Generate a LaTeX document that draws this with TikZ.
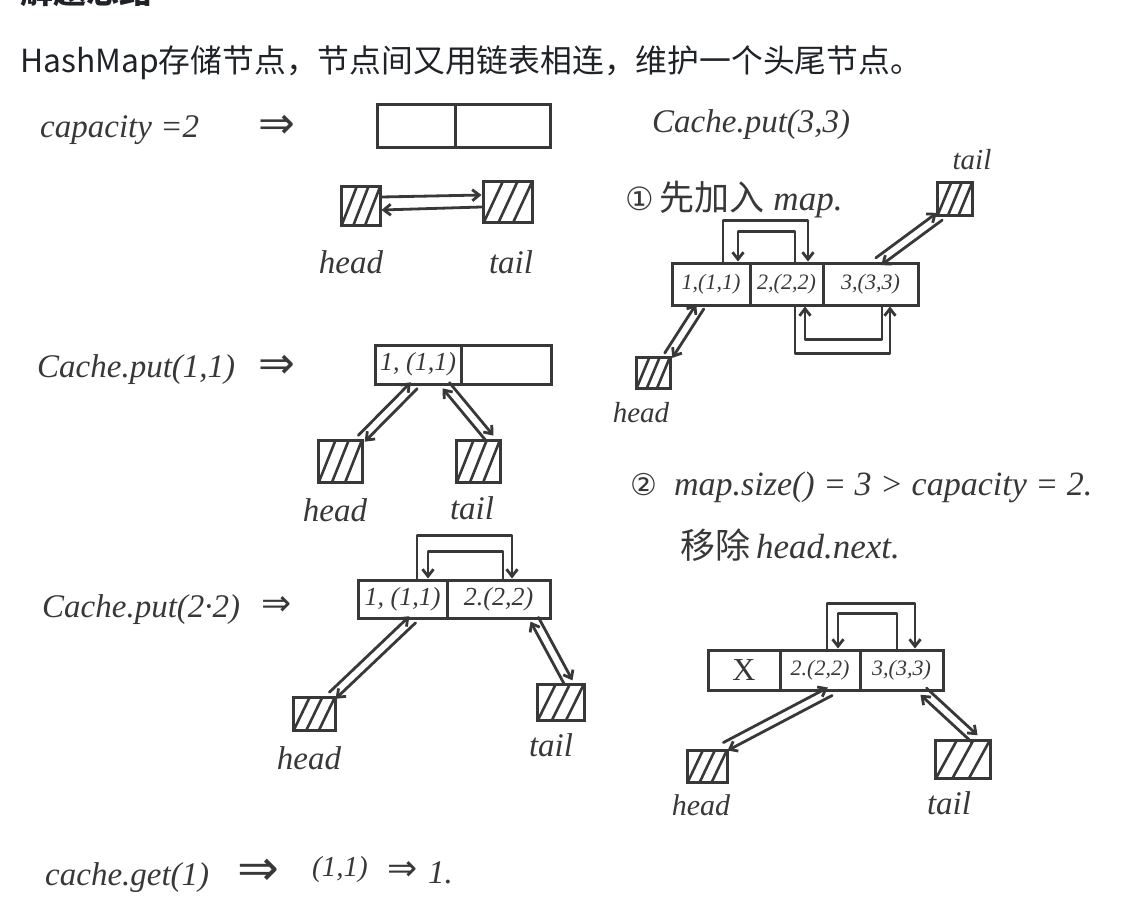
\documentclass[tikz,border=0pt]{standalone}
\usepackage{fontspec}
\setmainfont{Liberation Serif}
\newfontfamily\cjk{Noto Sans CJK SC}
\newfontfamily\dejavu{DejaVu Sans}
\usetikzlibrary{arrows.meta,calc}
\definecolor{ink}{HTML}{383838}
\definecolor{txt}{HTML}{1F2328}
\newcommand\myhatch{%
  \path (path picture bounding box.south west) coordinate (hsw)
        (path picture bounding box.north east) coordinate (hne);
  \foreach \f/\g in {0.02/0.40,0.32/0.70,0.62/1.0}{%
    \draw[ink,line width=2.6pt] ($(hsw)!\f!(hsw -| hne)$) -- ($(hsw |- hne)!\g!(hne)$);}%
}
\newcommand\dbl[2]{%
  \draw[arr] ($(#1)!4.5pt!90:(#2)$) -- ($(#2)!4.5pt!-90:(#1)$);
  \draw[arr] ($(#2)!4.5pt!90:(#1)$) -- ($(#1)!4.5pt!-90:(#2)$);}
\newcommand\imp[1]{{\dejavu\upshape\fontsize{#1}{#1}\selectfont ⇒}}
\tikzset{
  hw/.style={font=\itshape\fontsize{33}{33}\selectfont, text=ink, inner sep=0},
  cellb/.style={draw=ink, line width=3pt, inner sep=0, text=ink},
  hatchbox/.style={draw=ink, line width=3pt, inner sep=0, path picture={\myhatch}},
  arr/.style={draw=ink, line width=2.8pt, -{Straight Barb[length=7pt,width=11pt]}, line cap=round, line join=round},
}
\begin{document}
\begin{tikzpicture}[x=1pt,y=-1pt]
\useasboundingbox[fill=white] (0,0) rectangle (1126,912);
% headings
\node[anchor=base west, font=\cjk\bfseries\fontsize{33}{33}\selectfont, text=txt, inner sep=0] (hd) at (20,4) {解题思路};
\node[anchor=west, font=\cjk\fontsize{31.8}{31.8}\selectfont, text=txt, inner sep=0] (sub) at (20,63) {HashMap存储节点，节点间又用链表相连，维护一个头尾节点。};

% ---------- capacity = 2
\node[hw, anchor=west] (l0) at (40,130) {capacity =2};
\node[hw] (r0) at (277,127) {\imp{44}};
\node[cellb, minimum width=78pt, minimum height=43pt] (a1) at (416,126.5) {};
\node[cellb, minimum width=95pt, minimum height=43pt] (a2) at (502.5,126.5) {};
\node[hatchbox, minimum width=39pt, minimum height=38pt] (h0) at (360.5,206) {};
\node[hatchbox, minimum width=49pt, minimum height=40pt] (t0) at (507.5,202) {};
\node[hw] (hl0) at (351,262) {head};
\node[hw] (tl0) at (511,262) {tail};
\draw[arr] ([yshift=9pt]h0.east) -- ([yshift=7pt]t0.west);
\draw[arr] ([yshift=-5pt]t0.west) -- ([yshift=-4pt]h0.east);

% ---------- put(1,1)
\node[hw, anchor=west] (l1) at (37,370) {Cache.put(1,1)};
\node[hw] (r1) at (277,367) {\imp{44}};
\node[cellb, minimum width=86pt, minimum height=39pt, font=\itshape\fontsize{26}{26}\selectfont] (b1) at (418,364.5) {1, (1,1)};
\node[cellb, minimum width=90pt, minimum height=39pt] (b2) at (506,364.5) {};
\node[hatchbox, minimum width=44pt, minimum height=42pt] (h1) at (340,461) {};
\node[hatchbox, minimum width=44pt, minimum height=42pt] (t1) at (478,461) {};
\node[hw] (hl1) at (335,510) {head};
\node[hw] (tl1) at (472,508) {tail};
\coordinate (p1a) at ([xshift=-4pt]b1.south);
\coordinate (p1b) at ([xshift=-2pt]h1.north east);
\coordinate (p1c) at ([xshift=28pt]b1.south);
\coordinate (p1d) at ([xshift=12pt]t1.north);
\dbl{p1a}{p1b}
\dbl{p1c}{p1d}

% ---------- put(2,2)
\node[hw, anchor=west] (l2) at (42,610) {Cache.put(2·2)};
\node[hw] (r2) at (277,606) {\imp{36}};
\node[cellb, minimum width=89pt, minimum height=38pt, font=\itshape\fontsize{26}{26}\selectfont] (c1) at (402.5,599) {1, (1,1)};
\node[cellb, minimum width=103pt, minimum height=38pt, font=\itshape\fontsize{26}{26}\selectfont] (c2) at (498.5,599) {2.(2,2)};
\draw[arr] ([xshift=14.5pt]c1.north) -- ++(0,-43) -| ([xshift=13.5pt]c2.north);
\draw[arr] ([xshift=4.5pt]c2.north) -- ++(0,-27) -| ([xshift=25.5pt]c1.north);
\node[hatchbox, minimum width=42pt, minimum height=33pt] (h2) at (314,713.5) {};
\node[hatchbox, minimum width=47pt, minimum height=36pt] (t2) at (560.5,702) {};
\node[hw] (hl2) at (309,758) {head};
\node[hw] (tl2) at (551,745) {tail};
\coordinate (p2a) at ([xshift=10pt]c1.south);
\coordinate (p2b) at ([xshift=-4pt]h2.north east);
\coordinate (p2c) at ([xshift=36pt]c2.south);
\coordinate (p2d) at ([xshift=8pt]t2.north);
\dbl{p2a}{p2b}
\dbl{p2c}{p2d}

% ---------- get
\node[hw, anchor=west] (l3) at (45,878) {cache.get(1)};
\node[hw] (r3) at (258,872) {\imp{50}};
\node[hw, font=\itshape\fontsize{29}{29}\selectfont] (v3) at (340,870) {(1,1)};
\node[hw] (r4) at (403,871) {\imp{36}};
\node[hw, anchor=west] (v4) at (428,873) {1.};

% ---------- put(3,3)
\node[hw, anchor=west] (l5) at (652,125) {Cache.put(3,3)};
\node[hw, anchor=west, font=\itshape\fontsize{35}{35}\selectfont] (s1) at (625,200) {{\dejavu\upshape\fontsize{32}{32}\selectfont ①}\,{\cjk\upshape 先加入} map.};
\node[cellb, minimum width=78pt, minimum height=42pt, font=\itshape\fontsize{22}{22}\selectfont] (d1) at (711,284) {1,(1,1)};
\node[cellb, minimum width=73pt, minimum height=42pt, font=\itshape\fontsize{22}{22}\selectfont] (d2) at (786.5,284) {2,(2,2)};
\node[cellb, minimum width=95pt, minimum height=42pt, font=\itshape\fontsize{22}{22}\selectfont] (d3) at (870.5,284) {3,(3,3)};
\draw[arr] ([xshift=12pt]d1.north) -- ++(0,-41) -| ([xshift=21.5pt]d2.north);
\draw[arr] ([xshift=8.5pt]d2.north) -- ++(0,-30) -| ([xshift=27pt]d1.north);
\draw[arr] ([xshift=8.5pt]d2.south) -- ++(0,47) -| ([xshift=19.5pt]d3.south);
\draw[arr] ([xshift=11.5pt]d3.south) -- ++(0,33) -| ([xshift=18.5pt]d2.south);
\node[hatchbox, minimum width=34pt, minimum height=31pt] (h5) at (653,372.5) {};
\node[hatchbox, minimum width=35pt, minimum height=32pt] (t5) at (954.5,199) {};
\node[hw, font=\itshape\fontsize{29}{29}\selectfont] (hl5) at (641,413) {head};
\node[hw, font=\itshape\fontsize{29}{29}\selectfont] (tl5) at (972,160) {tail};
\coordinate (p5a) at ([xshift=-11pt]d1.south);
\coordinate (p5b) at ([xshift=-3pt]h5.north east);
\coordinate (p5c) at ([xshift=8pt]d3.north);
\coordinate (p5d) at ([xshift=4pt]t5.south west);
\dbl{p5a}{p5b}
\dbl{p5c}{p5d}

% ---------- step 2
\node[hw, anchor=west, font=\itshape\fontsize{34}{34}\selectfont] (s2) at (630,487) {{\dejavu\upshape\fontsize{30}{30}\selectfont ②}\ \ map.size() = 3 > capacity = 2.};
\node[hw, anchor=west, font=\itshape\fontsize{35}{35}\selectfont] (s3) at (680,545) {{\cjk\upshape 移除}\,head.next.};
\node[cellb, minimum width=72pt, minimum height=40pt, font=\fontsize{32}{32}\selectfont] (e1) at (744,670) {X};
\node[cellb, minimum width=80pt, minimum height=40pt, font=\itshape\fontsize{22}{22}\selectfont] (e2) at (820,670) {2.(2,2)};
\node[cellb, minimum width=83pt, minimum height=40pt, font=\itshape\fontsize{22}{22}\selectfont] (e3) at (901.5,670) {3,(3,3)};
\draw[arr] ([xshift=7pt]e2.north) -- ++(0,-45) -| ([xshift=13.5pt]e3.north);
\draw[arr] ([xshift=-4.5pt]e3.north) -- ++(0,-35) -| ([xshift=18pt]e2.north);
\node[hatchbox, minimum width=40pt, minimum height=32pt] (h6) at (707,766) {};
\node[hatchbox, minimum width=55pt, minimum height=38pt] (t6) at (962.5,759) {};
\node[hw, font=\itshape\fontsize{30}{30}\selectfont] (hl6) at (701,805) {head};
\node[hw] (tl6) at (949,803) {tail};
\coordinate (p6a) at ([xshift=10pt]e2.south);
\coordinate (p6b) at ([xshift=-3pt,yshift=2pt]h6.north east);
\coordinate (p6c) at ([xshift=22pt]e3.south);
\coordinate (p6d) at ([xshift=12pt]t6.north);
\dbl{p6a}{p6b}
\dbl{p6c}{p6d}
\end{tikzpicture}
\end{document}
